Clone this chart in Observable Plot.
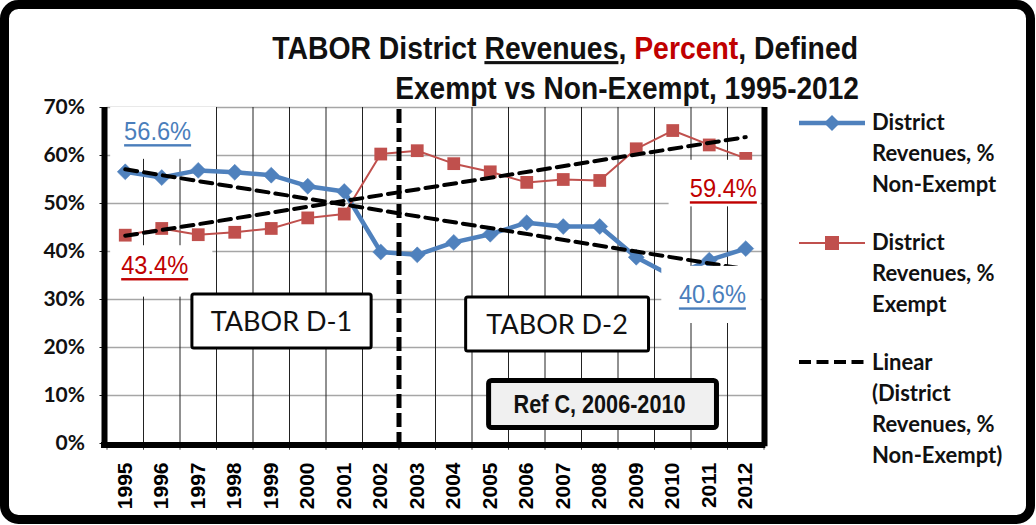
<!DOCTYPE html>
<html><head><meta charset="utf-8">
<script src="https://cdn.jsdelivr.net/npm/d3@7"></script>
<script src="https://cdn.jsdelivr.net/npm/@observablehq/plot@0.6"></script>
<style>
html,body{margin:0;padding:0;background:#fff;}
#chart{width:1036px;height:525px;position:relative;}
svg{display:block}
</style></head><body><div id="chart"></div>
<script>
// ---- data ----
const years = [1995,1996,1997,1998,1999,2000,2001,2002,2003,2004,2005,2006,2007,2008,2009,2010,2011,2012];
const nonExemptPct = [56.6,55.4,56.9,56.5,55.9,53.6,52.5,39.9,39.3,41.9,43.6,46.0,45.2,45.2,38.8,34.8,38.2,40.6];
const exemptPct    = [43.4,44.8,43.5,44.0,44.8,47.0,47.8,60.3,61.0,58.3,56.6,54.4,55.0,54.8,61.4,65.2,62.2,59.4];
const yTicks = [0,10,20,30,40,50,60,70];
const seriesNames = ["District Revenues, % Non-Exempt","District Revenues, % Exempt","Linear (District Revenues, % Non-Exempt)"];
const dividerYear = 2002.5;
const periodNotes = ["TABOR D-1","TABOR D-2"];
const refNote = "Ref C, 2006-2010";
const endLabels = ["56.6%","43.4%","59.4%","40.6%"];

const BLUE = "#4f81bd", RED = "#c0504d", TXTRED = "#c00000", TXTBLUE = "#4a7ebb";

const rows = years.map((y,i)=>({year:y, nonExempt:nonExemptPct[i], exempt:exemptPct[i]}));
function fit(xs, ys){
  const n=xs.length, mx=d3.mean(xs), my=d3.mean(ys);
  let sxy=0,sxx=0; for(let i=0;i<n;i++){sxy+=(xs[i]-mx)*(ys[i]-my); sxx+=(xs[i]-mx)**2;}
  const b=sxy/sxx, a=my-b*mx; return x=>a+b*x;
}
const fN = fit(years, nonExemptPct), fE = fit(years, exemptPct);
const ends = [years[0], years[years.length-1]];
const trend = [...ends.map(y=>({s:"n",year:y,v:fN(y)})), ...ends.map(y=>({s:"e",year:y,v:fE(y)}))];
const bounds = years.map(y=>y-0.5).concat([years[years.length-1]+0.5]);
const innerBounds = bounds.slice(1,-1).filter(b=>b!==dividerYear);

const plot = Plot.plot({
  width:1036, height:525,
  marginLeft:106.5, marginRight:272.5, marginTop:107, marginBottom:82,
  x:{type:"linear", domain:[bounds[0], bounds[bounds.length-1]], label:null},
  y:{domain:[0,70], label:null},
  style:{background:"white"},
  marks:[
    Plot.ruleY(yTicks.filter(d=>d>0), {stroke:"#a6a6a6", strokeWidth:1.5}),
    Plot.ruleX(innerBounds, {y1:0, y2:70, stroke:"#222", strokeWidth:1}),
    Plot.ruleX(bounds, {y1:-1.4, y2:0, stroke:"#444", strokeWidth:1}),
    Plot.axisY(yTicks, {tickFormat:d=>d+"%", tickSize:7, tickPadding:15, fontSize:21, fontWeight:"bold", fontFamily:"Lato", label:null, color:"#111"}),
    Plot.axisX(years, {tickSize:0, tickRotate:-90, tickPadding:19, tickFormat:d=>String(d), fontSize:21, fontWeight:"bold", fontFamily:"Liberation Sans", label:null}),
    Plot.line(rows, {x:"year", y:"nonExempt", stroke:BLUE, strokeWidth:4.5}),
    Plot.dot(rows, {x:"year", y:"nonExempt", symbol:"diamond2", r:7.2, fill:BLUE, stroke:BLUE, strokeWidth:0.5}),
    Plot.line(rows, {x:"year", y:"exempt", stroke:RED, strokeWidth:2}),
    Plot.dot(rows, {x:"year", y:"exempt", symbol:"square", r:7.2, fill:RED}),
    Plot.ruleX([dividerYear], {y1:-0.6, y2:70, stroke:"black", strokeWidth:5, strokeDasharray:"14,5"}),
    Plot.line(trend, {x:"year", y:"v", z:"s", stroke:"black", strokeWidth:4, strokeDasharray:"12,7"}),
    Plot.ruleX([bounds[0]], {y1:-0.7, y2:70, stroke:"black", strokeWidth:6, dx:-2.5}),
    Plot.ruleX([bounds[bounds.length-1]], {y1:-0.7, y2:70, stroke:"black", strokeWidth:6, dx:0.5}),
    Plot.ruleY([0], {x1:bounds[0]-0.15, x2:bounds[bounds.length-1]+0.05, stroke:"black", strokeWidth:6, dy:1.5})
  ]
});
document.getElementById("chart").appendChild(plot);

const sx = plot.scale("x"), sy = plot.scale("y");
const X = v=>sx.apply(v), Y = v=>sy.apply(v);
const svg = d3.select(plot);
const ann = svg.append("g");

// place a text so that it is horizontally squeezed to a given width
function fitText(textSel, anchorX, baseY, width, anchor){
  const w = textSel.node().getComputedTextLength();
  const s = width / w;
  textSel.attr("x",0).attr("y",0).attr("text-anchor",anchor)
    .attr("transform",`translate(${anchorX},${baseY}) scale(${s},1)`);
}

// end value labels (white boxes hide grid, as in the original text boxes)
const labelSpec = [
  {t:endLabels[0], c:TXTBLUE, x:1995.9,  y:63.2, box:[1994.6,1997.5,70,59.2]},
  {t:endLabels[1], c:TXTRED,  x:1995.82, y:35.3, box:[1994.6,1997.4,41.2,30.5]},
  {t:endLabels[2], c:TXTRED,  x:2011.4,  y:51.3, box:[2009.9,2012.42,59.0,49.3]},
  {t:endLabels[3], c:TXTBLUE, x:2011.1,  y:29.2, box:[2009.7,2012.42,36.9,25.0]}
];
labelSpec.forEach(d=>{
  ann.append("rect").attr("x",X(d.box[0])).attr("y",Y(d.box[2]))
    .attr("width",X(d.box[1])-X(d.box[0])).attr("height",Y(d.box[3])-Y(d.box[2])).attr("fill","white");
  const t = ann.append("text").attr("font-family","Liberation Sans").attr("font-size",26).attr("fill",d.c).text(d.t);
  fitText(t, X(d.x), Y(d.y), 67, "middle");
  ann.append("rect").attr("x",X(d.x)-33.5).attr("y",Y(d.y)+4.5).attr("width",67).attr("height",2.4).attr("fill",d.c);
});

// period boxes
const periodSpec = [
  {t:periodNotes[0], box:[1996.84,2001.75,31.04,19.79]},
  {t:periodNotes[1], box:[2004.34,2009.35,30.42,19.17]}
];
periodSpec.forEach(d=>{
  const x0=X(d.box[0]), x1=X(d.box[1]), y0=Y(d.box[2]), y1=Y(d.box[3]);
  ann.append("rect").attr("x",x0).attr("y",y0).attr("width",x1-x0).attr("height",y1-y0)
    .attr("fill","white").attr("stroke","black").attr("stroke-width",3).attr("rx",2);
  ann.append("text").attr("x",(x0+x1)/2).attr("y",(y0+y1)/2+10).attr("text-anchor","middle")
    .attr("font-family","Lato").attr("font-size",27).attr("fill","#111").text(d.t);
});
{
  const b=[2004.9,2011.28,13.54,2.71];
  const x0=X(b[0]), x1=X(b[1]), y0=Y(b[2]), y1=Y(b[3]);
  ann.append("rect").attr("x",x0+2.5).attr("y",y0+2.5).attr("width",x1-x0-5).attr("height",y1-y0-5)
    .attr("fill","#f0f0f0").attr("stroke","black").attr("stroke-width",5).attr("rx",3);
  const t = ann.append("text").attr("font-family","Liberation Sans").attr("font-weight","bold").attr("font-size",25).attr("fill","#111").text(refNote);
  fitText(t, (x0+x1)/2-3, (y0+y1)/2+9, 172, "middle");
}

// title
const title = svg.append("g").attr("font-family","Liberation Sans").attr("font-weight","bold").attr("font-size",31).attr("fill","#111");
const t1 = title.append("text");
t1.append("tspan").text("TABOR District ");
t1.append("tspan").attr("text-decoration","underline").text("Revenues");
t1.append("tspan").text(", ");
t1.append("tspan").attr("fill","#c00000").text("Percent");
t1.append("tspan").text(", Defined");
fitText(t1, 858, 59, 586, "end");
const t2 = title.append("text").text("Exempt vs Non-Exempt, 1995-2012");
fitText(t2, 859, 99, 464, "end");

// legend
const lg = svg.append("g").attr("font-family","Lato").attr("font-weight","bold").attr("font-size",22).attr("fill","#111").attr("text-anchor","start");
const legendLines = [
  ["District","Revenues, %","Non-Exempt"],
  ["District","Revenues, %","Exempt"],
  ["Linear","(District","Revenues, %","Non-Exempt)"]
];
const legendTop = [130, 250, 370];
legendLines.forEach((lines,k)=>{
  const t = lg.append("text").attr("x",872).attr("y",legendTop[k]);
  lines.forEach((s,j)=>t.append("tspan").attr("x",872).attr("dy", j===0?0:31).text(s));
});
lg.append("line").attr("x1",799).attr("x2",865).attr("y1",123).attr("y2",123).attr("stroke",BLUE).attr("stroke-width",4.5);
lg.append("path").attr("d",d3.symbol(d3.symbolDiamond2, 165)()).attr("transform","translate(832,123)").attr("fill",BLUE);
lg.append("line").attr("x1",799).attr("x2",865).attr("y1",243).attr("y2",243).attr("stroke",RED).attr("stroke-width",2);
lg.append("rect").attr("x",825).attr("y",236).attr("width",14).attr("height",14).attr("fill",RED);
lg.append("line").attr("x1",799).attr("x2",865).attr("y1",362).attr("y2",362).attr("stroke","black").attr("stroke-width",4).attr("stroke-dasharray","12,5.5");

// outer border
svg.append("rect").attr("x",4.5).attr("y",4.5).attr("width",1026).attr("height",515)
  .attr("fill","none").attr("stroke","black").attr("stroke-width",9).attr("rx",14);
</script></body></html>
